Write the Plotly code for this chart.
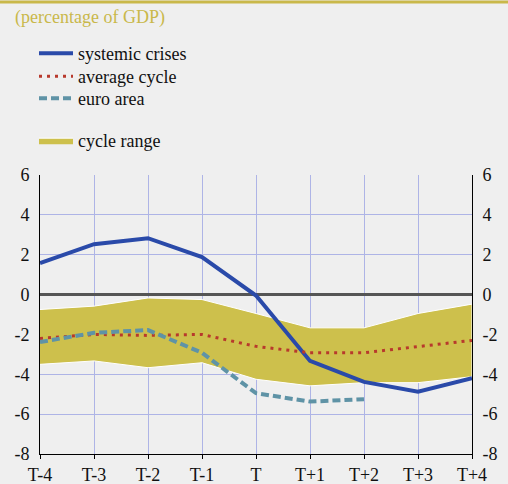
import plotly.graph_objects as go

periods = ["T-4", "T-3", "T-2", "T-1", "T", "T+1", "T+2", "T+3", "T+4"]
systemic = [1.58, 2.53, 2.83, 1.88, -0.05, -3.33, -4.38, -4.87, -4.2]
average = [-2.2, -2.0, -2.05, -2.0, -2.6, -2.92, -2.92, -2.6, -2.3]
euro = [-2.38, -1.92, -1.78, -2.92, -4.95, -5.37, -5.25]
range_hi = [-0.75, -0.58, -0.17, -0.25, -0.95, -1.67, -1.67, -0.95, -0.48]
range_lo = [-3.5, -3.33, -3.67, -3.42, -4.25, -4.58, -4.42, -4.42, -4.12]
y_ticks = [6, 4, 2, 0, -2, -4, -6, -8]
y_labels = ["6", "4", "2", "0", "-2", "-4", "-6", "-8"]

font = "Liberation Serif"
gold = "#c9b84a"

fig = go.Figure()

# band drawn first so the lines sit on top
fig.add_trace(go.Scatter(
	x=periods + periods[::-1], y=range_hi + range_lo[::-1],
	fill="toself", fillcolor="#cdc04c", mode="lines",
	line=dict(color="white", width=1),
	name="cycle range", legend="legend4"
))
fig.add_trace(go.Scatter(
	x=periods, y=systemic, mode="lines", name="systemic crises",
	line=dict(color="#2a4aa9", width=4), legend="legend"
))
fig.add_trace(go.Scatter(
	x=periods, y=average, mode="lines", name="average cycle",
	line=dict(color="#b8392c", width=3, dash="3px,5px"), legend="legend2"
))
fig.add_trace(go.Scatter(
	x=periods[:len(euro)], y=euro, mode="lines", name="euro area",
	line=dict(color="#5f93a6", width=4, dash="8px,4px"), legend="legend3"
))
# dummy trace so the right-hand axis gets drawn
fig.add_trace(go.Scatter(
	x=periods, y=average, yaxis="y2", mode="lines",
	line=dict(width=0), showlegend=False, hoverinfo="skip", opacity=0
))

yaxis_common = dict(
	range=[-8, 6], tickmode="array", tickvals=y_ticks, ticktext=y_labels,
	showline=True, linecolor="black", linewidth=1, ticklabelstandoff=6,
	ticks="", tickfont=dict(family=font, size=18, color="#111"),
)


def legend_at(top_px):
	return dict(
		xref="container", yref="container", x=34 / 508, y=1 - top_px / 484,
		xanchor="left", yanchor="top",
		bgcolor="rgba(0,0,0,0)", font=dict(family=font, size=18, color="#111"),
		itemwidth=34,
	)


fig.update_layout(
	width=508, height=484,
	margin=dict(l=40, r=36, t=175, b=30, autoexpand=False),
	paper_bgcolor="#efefef", plot_bgcolor="#efefef",
	font=dict(family=font, size=18, color="#111"),
	showlegend=True,
	legend=legend_at(35),
	legend2=legend_at(58),
	legend3=legend_at(80),
	legend4=legend_at(122),
	xaxis=dict(
		type="category", range=[0, 8], showgrid=True, gridcolor="#aeb4e6",
		gridwidth=1, showline=True, linecolor="black", linewidth=1,
		ticks="outside", ticklen=4, tickcolor="black",
		tickfont=dict(family=font, size=18, color="#111"),
	),
	yaxis=dict(
		**yaxis_common, side="left", showgrid=True, gridcolor="#aeb4e6",
		zeroline=True, zerolinecolor="#555555", zerolinewidth=3,
	),
	yaxis2=dict(
		**yaxis_common, side="right", overlaying="y", showgrid=False, zeroline=False,
	),
	annotations=[dict(
		text="(percentage of GDP)", xref="paper", yref="paper",
		x=-40 / 432 + 13 / 432, y=1 + 157 / 279, xanchor="left", yanchor="middle",
		showarrow=False, font=dict(family=font, size=18, color=gold),
	)],
	shapes=[dict(
		type="line", xref="paper", yref="paper",
		x0=-40 / 432, x1=468 / 432, y0=1 + 173 / 279, y1=1 + 173 / 279,
		line=dict(color=gold, width=3),
	)],
)

fig.write_html("out.html", config={"displayModeBar": False},
	post_script="document.body.style.margin = '0';")
